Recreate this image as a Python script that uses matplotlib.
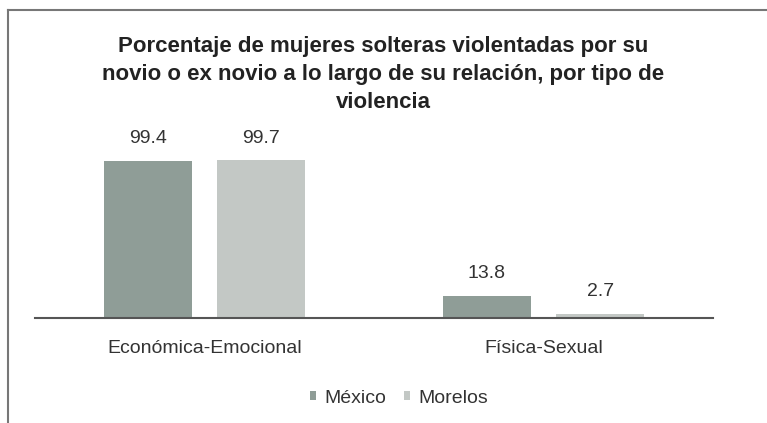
import matplotlib.pyplot as plt
import numpy as np
from matplotlib.lines import Line2D

categories = ["Económica-Emocional", "Física-Sexual"]
series_names = ["México", "Morelos"]
mexico = [99.4, 13.8]
morelos = [99.7, 2.7]
title = "Porcentaje de mujeres solteras violentadas por su\nnovio o ex novio a lo largo de su relación, por tipo de\nviolencia"

COLORS = ["#8f9d97", "#c3c8c5"]

plt.rcParams['font.family'] = ['Liberation Sans', 'DejaVu Sans']

fig = plt.figure(figsize=(7.67, 4.23), dpi=100)
ax = fig.add_axes([0.0456, 0.2482, 0.884, 0.4445])

x = np.arange(len(categories))
width = 0.26
offset = 0.167
for i, (name, vals) in enumerate(zip(series_names, [mexico, morelos])):
    pos = x + (offset if i else -offset)
    bars = ax.bar(pos, vals, width, color=COLORS[i], label=name)
    for b, v in zip(bars, vals):
        ax.annotate(f"{v}", (b.get_x() + b.get_width() / 2, v), xytext=(0, 10),
                    textcoords="offset points", ha="center", va="bottom",
                    fontsize=14, color="#333333")

ax.set_xlim(-0.5, 1.5)
ax.set_ylim(0, 119)
ax.set_yticks([])
ax.set_xticks(x)
ax.set_xticklabels(categories, fontsize=14, color="#333333")
ax.tick_params(axis="x", length=0, pad=16)
for s in ["top", "right", "left"]:
    ax.spines[s].set_visible(False)
ax.spines["bottom"].set_color("#555555")
ax.spines["bottom"].set_linewidth(1.5)

fig.text(0.5, 0.915, title, ha="center", va="top", fontsize=16, fontweight="bold",
         color="#222222", linespacing=1.45)

leg = fig.legend(loc="center", bbox_to_anchor=(0.52, 0.059), ncol=2, frameon=False,
                 fontsize=14, handlelength=0.35, handleheight=0.35, handletextpad=0.4,
                 columnspacing=0.9)
for t in leg.get_texts():
    t.set_color("#333333")

# scanned frame: top and left edges
fig.add_artist(Line2D([8 / 767, 1], [1 - 10 / 423, 1 - 10 / 423], color="#777777", lw=1.5))
fig.add_artist(Line2D([8 / 767, 8 / 767], [0, 1 - 10 / 423], color="#777777", lw=1.5))

fig.savefig("out.png", dpi=100)
